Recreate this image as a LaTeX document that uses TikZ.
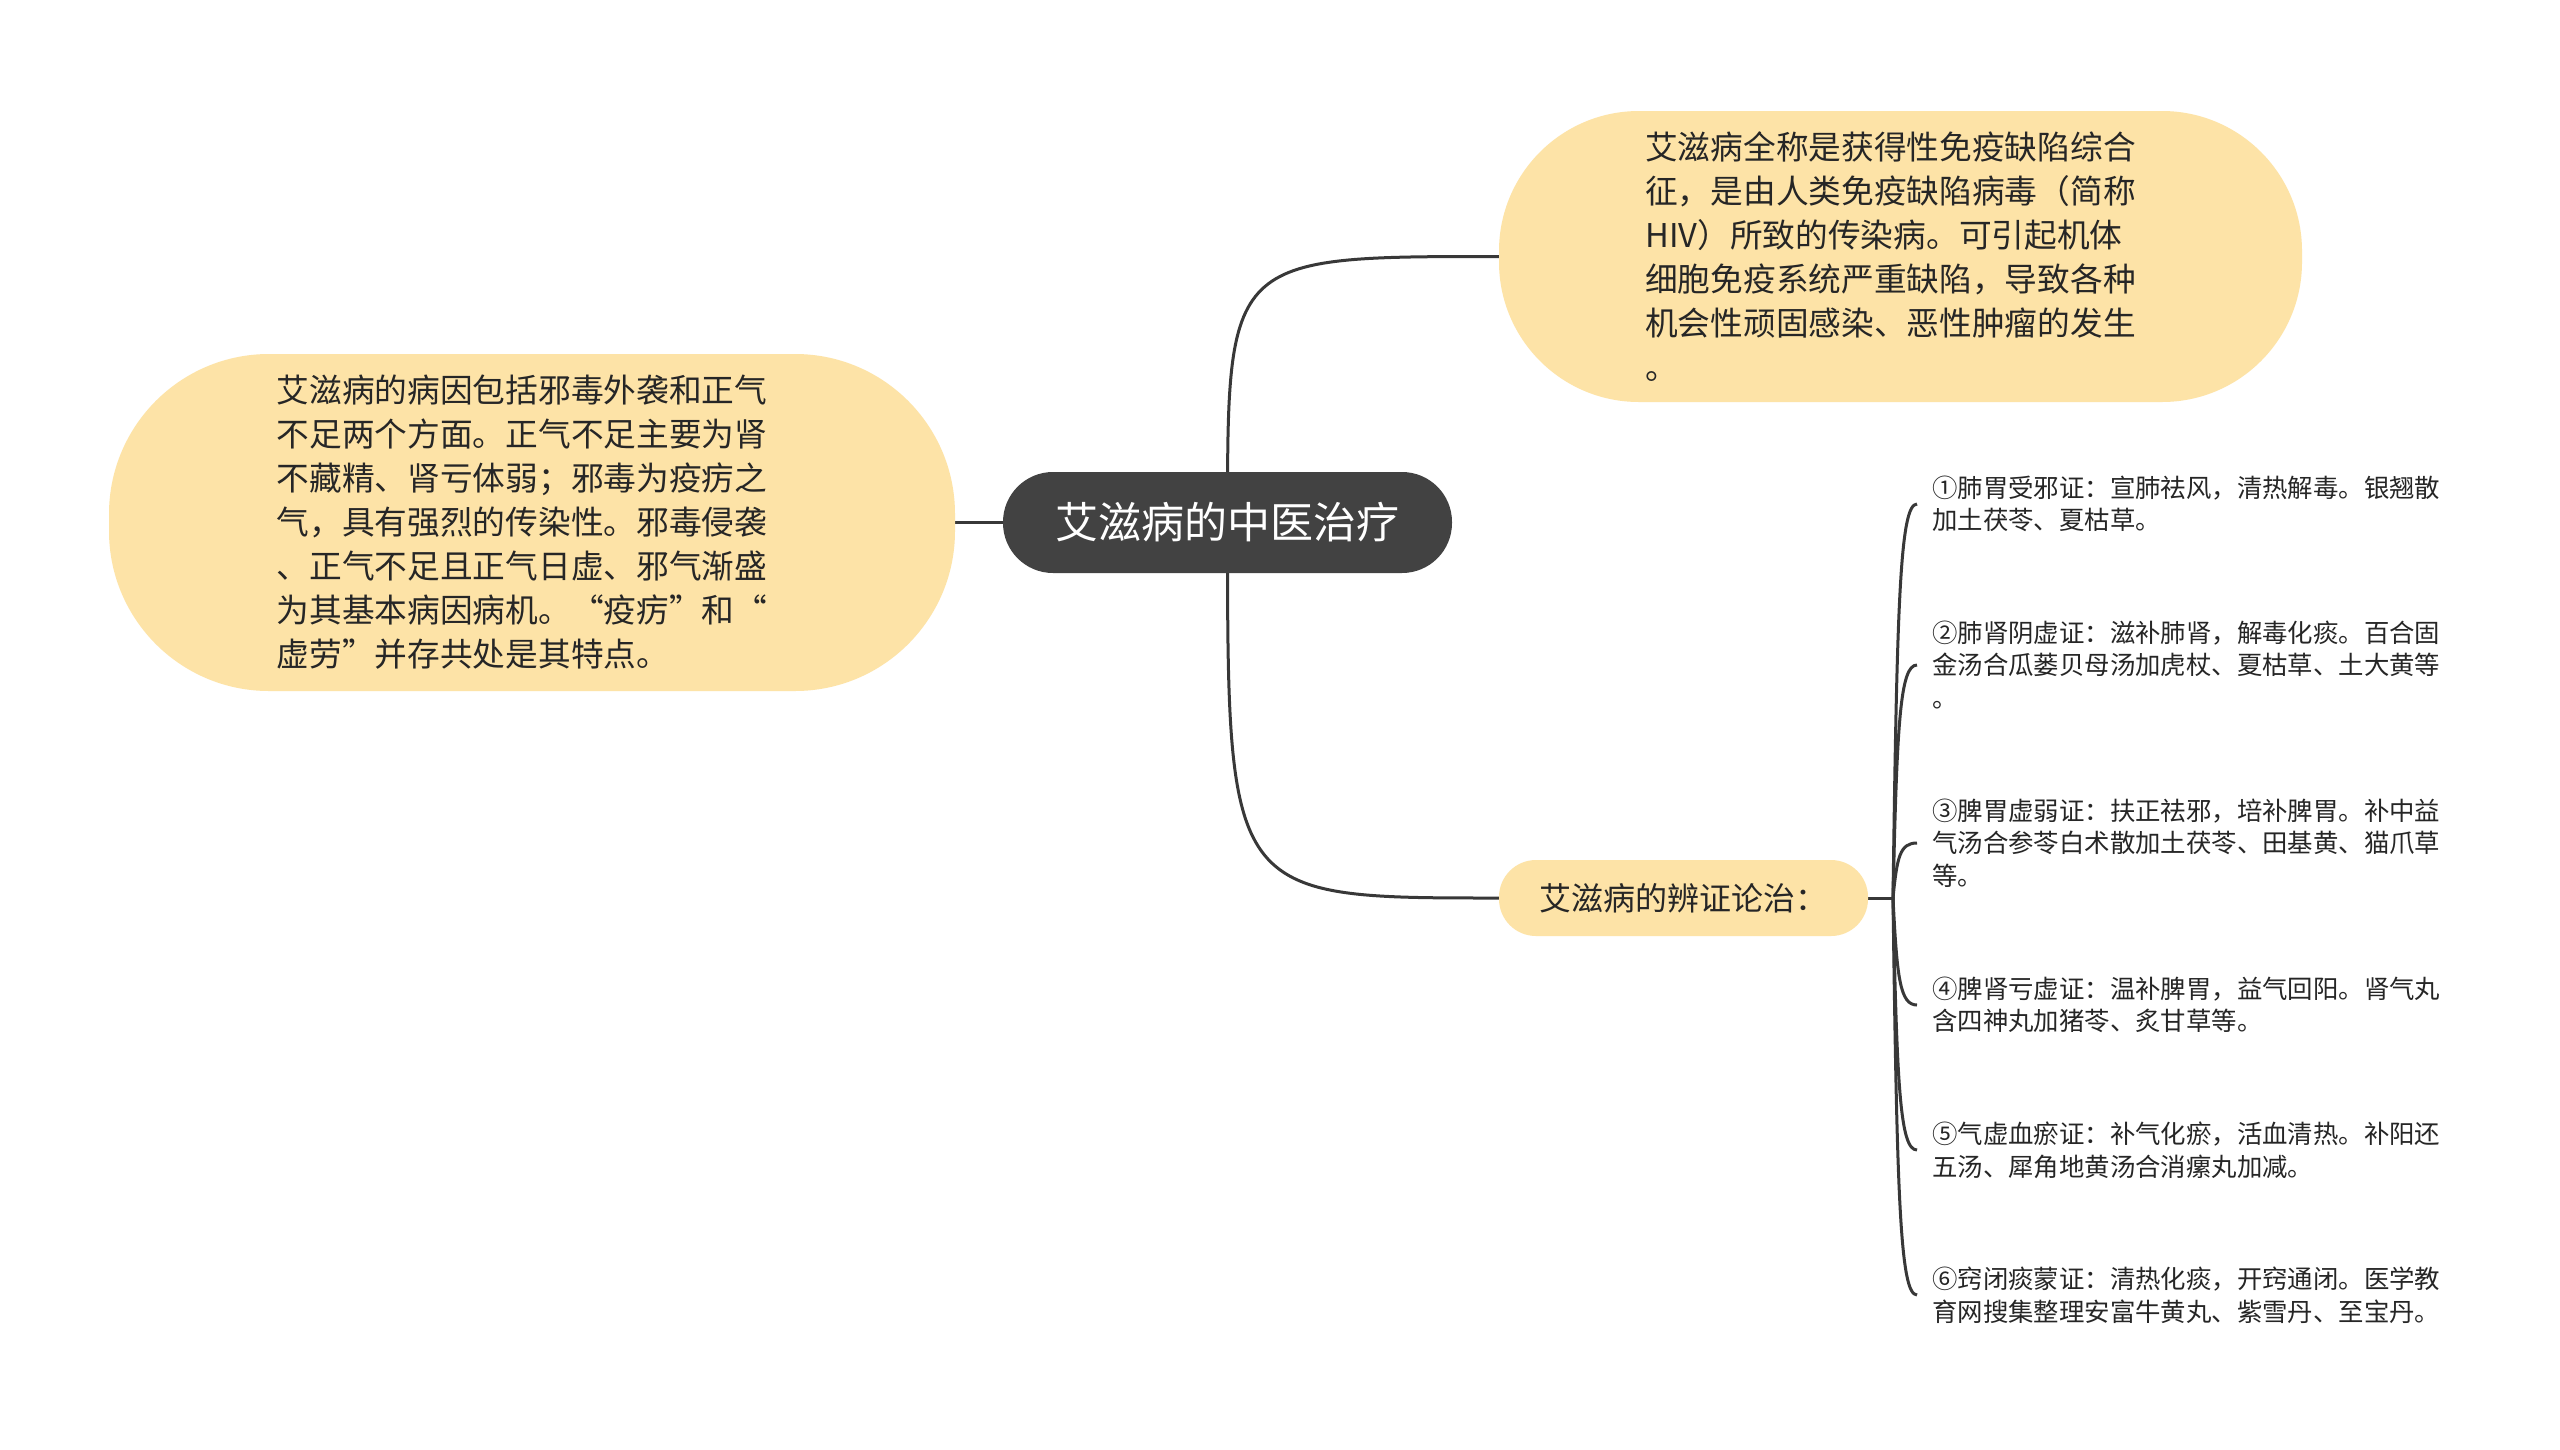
\documentclass[tikz,border=0pt]{standalone}
\usepackage{fontspec}
\setmainfont{Noto Sans CJK SC}
\usetikzlibrary{calc,backgrounds}
\definecolor{nodefill}{HTML}{FDE3A7}
\definecolor{rootfill}{HTML}{424242}
\definecolor{linec}{HTML}{383838}
\definecolor{txt}{HTML}{262626}
\begin{document}
\begin{tikzpicture}[x=1pt,y=-1pt,
  conn/.style={draw=linec,line width=3pt},
  bigshape/.style={fill=nodefill,inner sep=0pt},
  bigtext/.style={align=left,text=txt,font=\fontsize{32.7pt}{44pt}\selectfont,inner sep=0pt},
  rootbox/.style={fill=rootfill,text=white,rounded corners=50pt,minimum width=449pt,minimum height=101pt,font=\fontsize{43pt}{50pt}\selectfont,inner sep=0pt},
  subbox/.style={fill=nodefill,text=txt,rounded corners=37pt,minimum width=369pt,minimum height=76pt,font=\fontsize{32pt}{40pt}\selectfont,inner sep=0pt},
  leafbox/.style={align=left,text=txt,font=\fontsize{25.4pt}{32.7pt}\selectfont,inner xsep=15pt,inner ysep=0pt,anchor=west}
]
\useasboundingbox (0,0) rectangle (2560,1449);

\node[rootbox] (cen) at (1227.5,522.5) {艾滋病的中医治疗};

\node[bigshape,minimum width=803pt,minimum height=291pt,rounded corners=140pt] (tr) at (1900.5,256.5) {};
\node[bigtext] (trtext) at (1890.5,256.5)
{艾滋病全称是获得性免疫缺陷综合\\
征，是由人类免疫缺陷病毒（简称\\
HIV）所致的传染病。可引起机体\\
细胞免疫系统严重缺陷，导致各种\\
机会性顽固感染、恶性肿瘤的发生\\
。};

\node[bigshape,minimum width=846pt,minimum height=337pt,rounded corners=160pt] (lf) at (532,522.5) {};
\node[bigtext] (lftext) at (522,522.5)
{艾滋病的病因包括邪毒外袭和正气\\
不足两个方面。正气不足主要为肾\\
不藏精、肾亏体弱；邪毒为疫疠之\\
气，具有强烈的传染性。邪毒侵袭\\
、正气不足且正气日虚、邪气渐盛\\
为其基本病因病机。“疫疠”和“\\
虚劳”并存共处是其特点。};

\node[subbox] (bz) at (1683.5,898) {艾滋病的辨证论治：};

\coordinate (j) at (1893,898);

\node[leafbox] (c1) at (1917,504) {①肺胃受邪证：宣肺祛风，清热解毒。银翘散\\加土茯苓、夏枯草。};
\node[leafbox] (c2) at (1917,665) {②肺肾阴虚证：滋补肺肾，解毒化痰。百合固\\金汤合瓜蒌贝母汤加虎杖、夏枯草、土大黄等\\。};
\node[leafbox] (c3) at (1917,843) {③脾胃虚弱证：扶正祛邪，培补脾胃。补中益\\气汤合参苓白术散加土茯苓、田基黄、猫爪草\\等。};
\node[leafbox] (c4) at (1917,1005) {④脾肾亏虚证：温补脾胃，益气回阳。肾气丸\\含四神丸加猪苓、炙甘草等。};
\node[leafbox] (c5) at (1917,1150) {⑤气虚血瘀证：补气化瘀，活血清热。补阳还\\五汤、犀角地黄汤合消瘰丸加减。};
\node[leafbox] (c6) at (1917,1295) {⑥窍闭痰蒙证：清热化痰，开窍通闭。医学教\\育网搜集整理安富牛黄丸、紫雪丹、至宝丹。};

\begin{scope}[on background layer]
\fill[white] (0,0) rectangle (2560,1449);
\draw[conn] (cen.center) .. controls (cen.center |- tr.west) .. (tr.west);
\draw[conn] (cen.center) .. controls (cen.center |- bz.west) .. (bz.west);
\draw[conn] (lf.east) -- (cen.center);
\draw[conn] (bz.east) -- (j);
\foreach \c in {c1,c2,c3,c4,c5,c6}{
  \draw[conn] (j) .. controls ($(j)!0.75!(j |- \c.west) + (4,0)$) and ($(\c.west) + (-17,0)$) .. (\c.west);
}
\end{scope}
\end{tikzpicture}
\end{document}
